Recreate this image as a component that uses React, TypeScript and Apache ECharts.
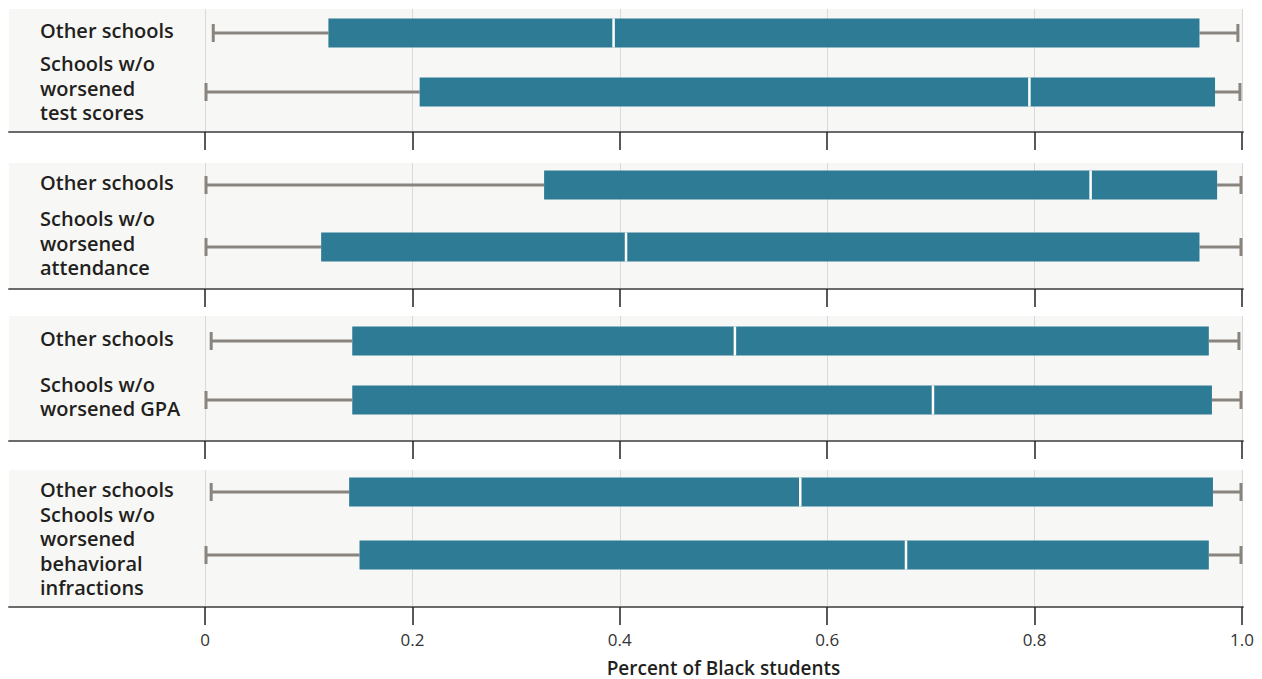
import React, { useEffect, useRef } from "react";
import * as echarts from "echarts";

// [min, Q1, median, Q3, max] per group: first "Other schools", second "Schools w/o worsened ..."
const panelLabels: string[][] = [
  ["Other schools", "Schools w/o\nworsened\ntest scores"],
  ["Other schools", "Schools w/o\nworsened\nattendance"],
  ["Other schools", "Schools w/o\nworsened GPA"],
  ["Other schools", "Schools w/o\nworsened\nbehavioral\ninfractions"],
];
const testScores = [
  [0.007, 0.119, 0.394, 0.959, 0.997],
  [0.0, 0.207, 0.795, 0.974, 0.999],
];
const attendance = [
  [0.0, 0.327, 0.854, 0.976, 1.0],
  [0.0, 0.112, 0.406, 0.959, 1.0],
];
const gpa = [
  [0.005, 0.142, 0.511, 0.968, 0.998],
  [0.0, 0.142, 0.702, 0.971, 1.0],
];
const behavioral = [
  [0.005, 0.139, 0.574, 0.972, 1.0],
  [0.0, 0.149, 0.676, 0.968, 1.0],
];
const panelData = [testScores, attendance, gpa, behavioral];
const xAxisTitle = "Percent of Black students";

// layout (pixels)
const panels = [
  { top: 9, bottom: 132, c0: 33, c1: 92 },
  { top: 163, bottom: 289, c0: 185, c1: 247 },
  { top: 316, bottom: 441, c0: 341, c1: 400 },
  { top: 470, bottom: 607, c0: 492, c1: 555 },
];

const FONT = "'Open Sans', 'Noto Sans', sans-serif";
const BOX = "#2e7b95";
const WHISK = "#8a847f";

export default function App() {
  const ref = useRef<HTMLDivElement>(null);
  useEffect(() => {
    if (!ref.current) return;
    const chart = echarts.init(ref.current, null, { renderer: "svg" });
    const grid: any[] = [];
    const xAxis: any[] = [];
    const yAxis: any[] = [];
    const series: any[] = [];
    panels.forEach((p, i) => {
      const h = p.bottom - p.top;
      const step = p.c1 - p.c0;
      // background grid
      grid.push({
        left: 9,
        right: 19,
        top: p.top,
        height: h,
        show: true,
        backgroundColor: "#f7f7f5",
        borderWidth: 0,
      });
      xAxis.push({
        gridIndex: 2 * i,
        type: "value",
        min: 0,
        max: 1,
        axisLine: { show: true, onZero: false, lineStyle: { color: "#6b6b6b", width: 2 } },
        axisTick: { show: false },
        axisLabel: { show: false },
        splitLine: { show: false },
      });
      yAxis.push({ gridIndex: 2 * i, type: "value", show: false });
      // data grid
      grid.push({ left: 205, width: 1037, top: p.top, height: h });
      const last = i === panels.length - 1;
      xAxis.push({
        gridIndex: 2 * i + 1,
        type: "value",
        position: "bottom",
        min: 0,
        max: 1,
        interval: 0.2,
        axisLine: { show: false, onZero: false },
        axisTick: { show: true, length: 18, lineStyle: { color: "#222", width: 1.5 } },
        splitLine: { show: true, lineStyle: { color: "#d9d9d9", width: 1 } },
        axisLabel: {
          show: last,
          margin: 24,
          fontSize: 17,
          color: "#333333",
          fontFamily: FONT,
          formatter: (v: number) => (v === 0 ? "0" : v.toFixed(1)),
        },
        name: last ? xAxisTitle : "",
        nameLocation: "middle",
        nameGap: 51,
        nameTextStyle: { fontSize: 19, fontWeight: 600, color: "#231f20", fontFamily: FONT, lineHeight: 19 },
      });
      yAxis.push({
        gridIndex: 2 * i + 1,
        type: "value",
        inverse: true,
        min: -(p.c0 - p.top) / step,
        max: 1 + (p.bottom - p.c1) / step,
        axisLine: { show: false },
        axisTick: { show: false },
        splitLine: { show: false },
        axisLabel: {
          customValues: [-0.04, 0.94],
          hideOverlap: false,
          showMinLabel: true,
          showMaxLabel: true,
          formatter: (v: number) => panelLabels[i][Math.round(v)] ?? "",
          align: "left",
          margin: 165,
          fontSize: 20,
          fontWeight: 600,
          lineHeight: 24.5,
          color: "#231f20",
          fontFamily: FONT,
        },
      });
      series.push({
        type: "custom",
        xAxisIndex: 2 * i + 1,
        yAxisIndex: 2 * i + 1,
        encode: { x: [1, 2, 3, 4, 5], y: 0 },
        data: panelData[i].map((d, k) => [k, ...d]),
        renderItem: (params: any, api: any) => {
          const cat = api.value(0);
          const pt = (v: number) => api.coord([v, cat]);
          const [xMin, y] = pt(api.value(1));
          const xQ1 = pt(api.value(2))[0];
          const xMed = pt(api.value(3))[0];
          const xQ3 = pt(api.value(4))[0];
          const xMax = pt(api.value(5))[0];
          const bh = 29;
          const ch = 18;
          const wStyle = { stroke: WHISK, lineWidth: 3 };
          return {
            type: "group",
            children: [
              { type: "line", shape: { x1: xMin, y1: y, x2: xQ1, y2: y }, style: wStyle },
              { type: "line", shape: { x1: xQ3, y1: y, x2: xMax, y2: y }, style: wStyle },
              { type: "line", shape: { x1: xMin + 1, y1: y - ch / 2, x2: xMin + 1, y2: y + ch / 2 }, style: wStyle },
              { type: "line", shape: { x1: xMax - 1, y1: y - ch / 2, x2: xMax - 1, y2: y + ch / 2 }, style: wStyle },
              { type: "rect", shape: { x: xQ1, y: y - bh / 2, width: xQ3 - xQ1, height: bh }, style: { fill: BOX } },
              { type: "line", shape: { x1: xMed, y1: y - bh / 2, x2: xMed, y2: y + bh / 2 }, style: { stroke: "#ffffff", lineWidth: 2.5 } },
            ],
          };
        },
      });
    });
    chart.setOption({
      animation: false,
      backgroundColor: "#ffffff",
      grid,
      xAxis,
      yAxis,
      series,
    });
    return () => chart.dispose();
  }, []);
  return (
    <div
      ref={ref}
      style={{ position: "fixed", left: 0, top: 0, width: 1262, height: 679 }}
    />
  );
}
